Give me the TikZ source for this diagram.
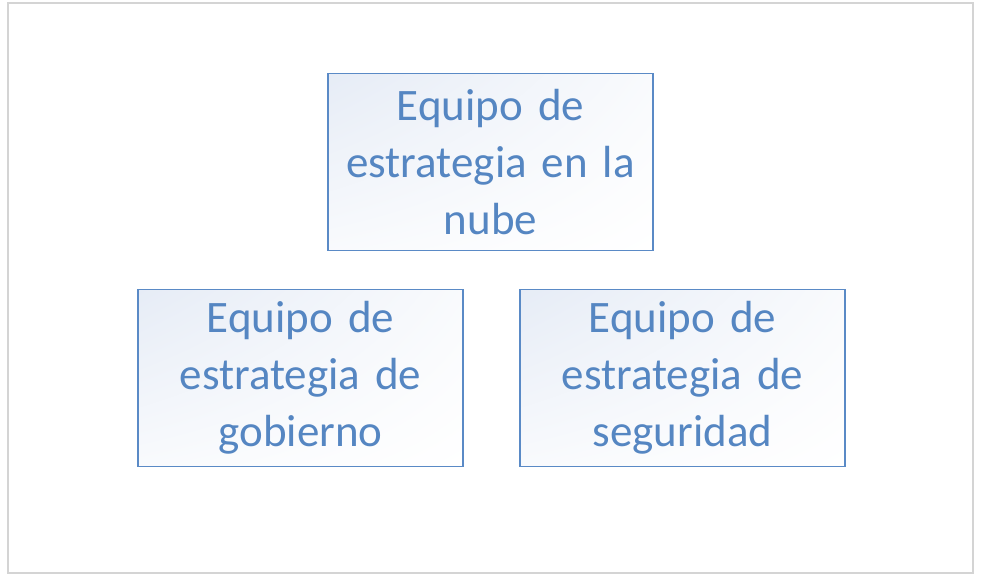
\documentclass[tikz,border=0pt]{standalone}
\usepackage{fontspec}
\setmainfont{Carlito}[WordSpace=0.75]
\usetikzlibrary{shadings}
\definecolor{boxline}{HTML}{5A8AC6}
\definecolor{boxtext}{HTML}{5586C2}
\definecolor{shadeA}{HTML}{E6ECF6}
\definecolor{frameline}{HTML}{D4D4D4}
\begin{document}
\begin{tikzpicture}[x=1pt,y=-1pt,
  teambox/.style={draw=boxline, line width=1.5pt, minimum width=325pt, minimum height=177pt,
    inner sep=0pt, align=center, text=boxtext, text width=320pt,
    font=\fontsize{45}{57}\selectfont,
    upper left=shadeA, upper right=white!75!shadeA, lower left=white!75!shadeA, lower right=white}]
\useasboundingbox (0,0) rectangle (983,587);
\fill[white] (0,0) rectangle (983,587);
\draw[frameline, line width=1.2pt, fill=white] (8,3) rectangle (973,573);
\node[teambox] (nube) at (490.5,162) {Equipo de\\estrategia en la\\nube};
\node[teambox] (gob) at (300.5,378) {Equipo de\\estrategia de\\gobierno};
\node[teambox] (seg) at (682.5,378) {Equipo de\\estrategia de\\seguridad};
\end{tikzpicture}
\end{document}
